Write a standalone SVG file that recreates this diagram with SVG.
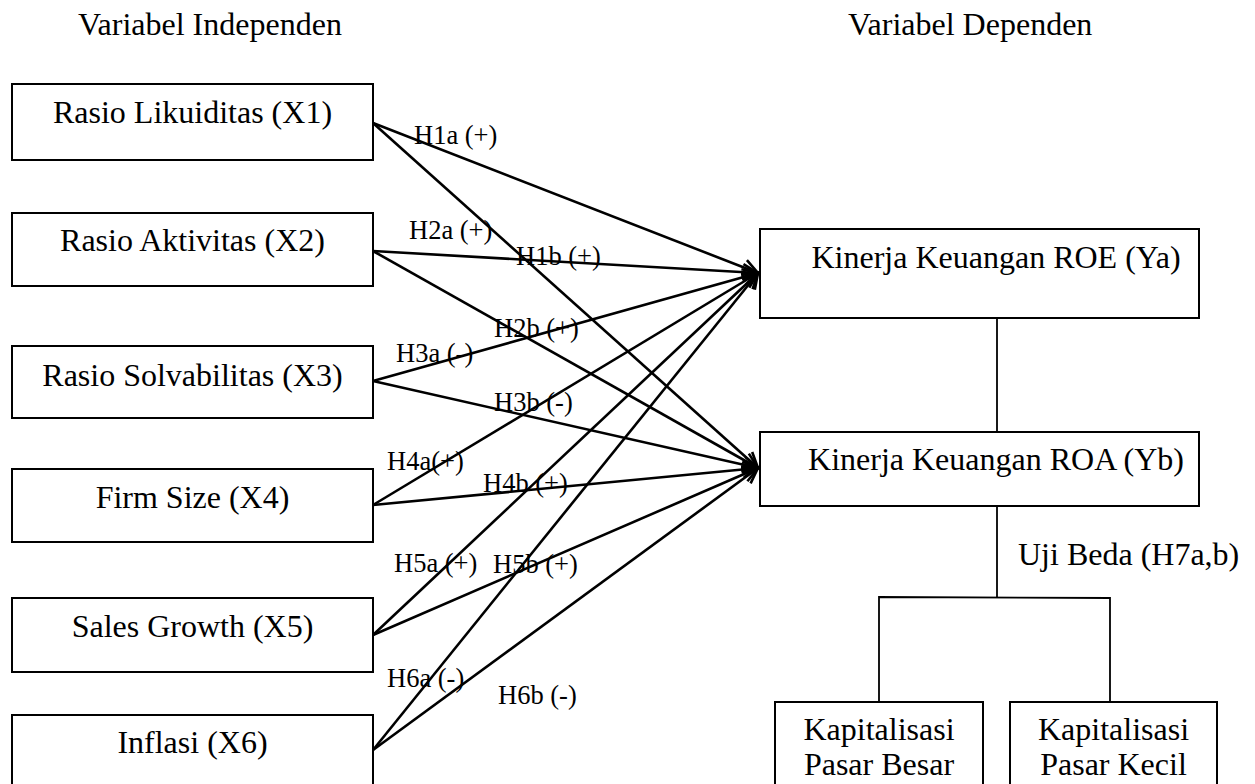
<svg xmlns="http://www.w3.org/2000/svg" width="1255" height="784" viewBox="0 0 1255 784">
<style>
  text { font-family: "Liberation Serif", "Times New Roman", serif; fill: #000; }
  .big { font-size: 32px; }
  .lbl { font-size: 26.5px; }
  .mid { text-anchor: middle; }
  .box { fill: #fff; stroke: #000; stroke-width: 2; }
  .arr { stroke: #000; stroke-width: 2.6; fill: none; marker-end: url(#ah); }
  .ln { stroke: #000; stroke-width: 1.8; fill: none; }
</style>
<defs>
  <marker id="ah" markerUnits="userSpaceOnUse" markerWidth="20" markerHeight="20" refX="16" refY="9" orient="auto" overflow="visible">
    <path d="M1,1 L16,9 L1,17" fill="none" stroke="#000" stroke-width="2.6"/>
  </marker>
</defs>
<rect width="1255" height="784" fill="#fff"/>

<text class="big" x="78" y="35">Variabel Independen</text>
<text class="big" x="848" y="35">Variabel Dependen</text>

<g id="connectors">
  <line class="arr" x1="373" y1="123" x2="758" y2="273"/>
  <line class="arr" x1="373" y1="123" x2="758" y2="468"/>
  <line class="arr" x1="373" y1="251" x2="758" y2="273"/>
  <line class="arr" x1="373" y1="251" x2="758" y2="468"/>
  <line class="arr" x1="373" y1="381" x2="758" y2="273"/>
  <line class="arr" x1="373" y1="381" x2="758" y2="468"/>
  <line class="arr" x1="373" y1="505" x2="758" y2="273"/>
  <line class="arr" x1="373" y1="505" x2="758" y2="468"/>
  <line class="arr" x1="373" y1="635" x2="758" y2="273"/>
  <line class="arr" x1="373" y1="635" x2="758" y2="468"/>
  <line class="arr" x1="373" y1="750" x2="758" y2="273"/>
  <line class="arr" x1="373" y1="750" x2="758" y2="468"/>
  <line class="ln" x1="997" y1="318" x2="997" y2="432"/>
  <polyline class="ln" points="997,506 997,597"/>
  <polyline class="ln" points="879,702 879,597 1110,598 1110,702"/>
</g>

<g id="labels">
  <text class="lbl" x="414" y="144">H1a (+)</text>
  <text class="lbl" x="409" y="239">H2a (+)</text>
  <text class="lbl" x="516" y="265">H1b (+)</text>
  <text class="lbl" x="494" y="337">H2b (+)</text>
  <text class="lbl" x="396" y="362">H3a (-)</text>
  <text class="lbl" x="494" y="411">H3b (-)</text>
  <text class="lbl" x="387" y="470">H4a(+)</text>
  <text class="lbl" x="483" y="492">H4b (+)</text>
  <text class="lbl" x="394" y="572">H5a (+)</text>
  <text class="lbl" x="493" y="573">H5b (+)</text>
  <text class="lbl" x="387" y="687">H6a (-)</text>
  <text class="lbl" x="498" y="704">H6b (-)</text>
  <text class="big" x="1018" y="565">Uji Beda (H7a,b)</text>
</g>

<g id="x1"><rect class="box" x="12" y="84" width="361" height="76"/><text class="big mid" x="192.5" y="123">Rasio Likuiditas (X1)</text></g>
<g id="x2"><rect class="box" x="12" y="213" width="361" height="73"/><text class="big mid" x="192.5" y="251">Rasio Aktivitas (X2)</text></g>
<g id="x3"><rect class="box" x="12" y="346" width="361" height="72"/><text class="big mid" x="192.5" y="386">Rasio Solvabilitas (X3)</text></g>
<g id="x4"><rect class="box" x="12" y="469" width="361" height="73"/><text class="big mid" x="192.5" y="508">Firm Size (X4)</text></g>
<g id="x5"><rect class="box" x="12" y="598" width="361" height="74"/><text class="big mid" x="192.5" y="637">Sales Growth (X5)</text></g>
<g id="x6"><rect class="box" x="12" y="715" width="361" height="74"/><text class="big mid" x="192.5" y="753">Inflasi (X6)</text></g>

<g id="ya"><rect class="box" x="760" y="229" width="439" height="89"/><text class="big mid" x="996" y="268">Kinerja Keuangan ROE (Ya)</text></g>
<g id="yb"><rect class="box" x="760" y="432" width="439" height="74"/><text class="big mid" x="996" y="470">Kinerja Keuangan ROA (Yb)</text></g>

<g id="besar"><rect class="box" x="775" y="702" width="208" height="90"/><text class="big mid" x="879" y="740">Kapitalisasi</text><text class="big mid" x="879" y="775">Pasar Besar</text></g>
<g id="kecil"><rect class="box" x="1010" y="702" width="207" height="90"/><text class="big mid" x="1113.5" y="740">Kapitalisasi</text><text class="big mid" x="1113.5" y="775">Pasar Kecil</text></g>
</svg>
